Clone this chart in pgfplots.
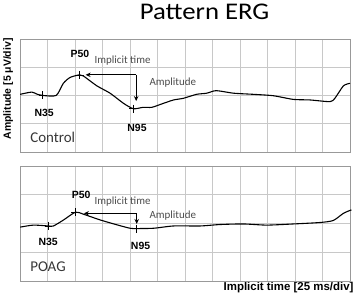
\documentclass[border=0pt]{standalone}
\usepackage{pgfplots}
\pgfplotsset{compat=1.18}
\usepackage{fontspec}
\setmainfont{Carlito}
\newfontfamily\arial{Liberation Sans}
\usetikzlibrary{arrows.meta}
\definecolor{gridc}{RGB}{200,200,200}
\definecolor{txtc}{RGB}{55,55,55}
\definecolor{annc}{RGB}{75,75,75}
\pgfplotsset{
  ergpanel/.style={
    scale only axis, width=330bp,
    xmin=0, xmax=12, ymin=0, ymax=4,
    xtick={0,...,12}, ytick={0,...,4},
    xticklabels={}, yticklabels={},
    major tick length=0pt,
    grid=major, major grid style={gridc, line width=0.6pt},
    axis line style={gray!80, line width=0.6pt},
    clip=false,
  },
  trace/.style={black, line width=1.1pt, smooth, tension=0.4, no marks},
  cross/.style={only marks, mark=+, mark size=4pt, black, mark options={line width=0.6pt}},
  arr/.style={black, line width=1pt, -{Stealth[length=5pt,width=4.5pt]}, no marks},
}
\tikzset{
  pk/.style={font=\arial\bfseries\fontsize{10.5}{12}\selectfont, anchor=base},
  ann/.style={font=\fontsize{11}{12}\selectfont, text=annc, anchor=base west},
  grp/.style={font=\fontsize{15}{17}\selectfont, text=txtc, anchor=base west},
}
\begin{document}
\begin{tikzpicture}[x=1bp,y=1bp]
\path (0,0) rectangle (358,298);
\node[font=\fontsize{24}{26}\selectfont, text=black, anchor=base, xscale=1.12] at (204.5,278) {Pattern ERG};
\node[font=\arial\bfseries\fontsize{10.5}{12}\selectfont, rotate=90] at (8,209) {Amplitude [5 μV/div]};
\node[font=\arial\bfseries\fontsize{11.5}{13}\selectfont, anchor=base east] at (357,7) {Implicit time [25 ms/div]};
% Control panel
\begin{axis}[ergpanel, height=113bp, at={(20bp,146bp)}, anchor=south west]
\addplot[trace] coordinates {
(0,2.04) (0.42,2.12) (0.6,2.05) (0.82,2.0) (1.31,2.0) (1.57,2.43) (1.82,2.64)
(2.16,2.73) (2.3,2.69) (2.79,2.34) (3.27,2.08) (3.76,1.72) (4.12,1.53)
(4.48,1.58) (4.79,1.58) (5.21,1.72) (5.58,1.84) (5.94,1.9) (6.42,2.04)
(6.79,2.08) (7.13,2.17) (7.76,2.08) (8.48,2.04) (9.21,1.99) (9.94,1.86)
(10.55,1.84) (11.27,1.78) (11.45,1.9) (11.76,2.34) (12,2.43)};
\addplot[cross] coordinates {(0.82,2.0) (2.16,2.73) (4.12,1.53)};
\addplot[arr] coordinates {(4.22,2.73) (2.38,2.73)};
\addplot[arr] coordinates {(4.22,2.73) (4.22,1.8)};
\node[pk, anchor=base west] at (axis cs:1.71,3.36) {P50};
\node[ann] at (axis cs:2.58,3.12) {Implicit time};
\node[ann] at (axis cs:4.58,2.37) {Amplitude};
\node[pk] at (axis cs:0.87,1.24) {N35};
\node[pk] at (axis cs:4.25,0.74) {N95};
\node[grp] at (axis cs:0.24,0.35) {Control};
\end{axis}
% POAG panel
\begin{axis}[ergpanel, height=115bp, at={(20bp,17bp)}, anchor=south west]
\addplot[trace] coordinates {
(0,1.87) (0.48,1.94) (1.03,1.91) (1.21,1.91) (1.58,2.12) (2.01,2.39) (2.3,2.32)
(2.91,2.12) (3.52,1.95) (4.0,1.83) (4.24,1.82) (4.85,1.83) (5.58,1.91)
(6.55,1.91) (7.27,1.96) (8.12,1.98) (8.97,1.94) (9.94,1.98) (10.9,2.03)
(11.39,2.1) (11.76,2.35) (12.05,2.47)};
\addplot[cross] coordinates {(1.03,1.91) (2.01,2.39) (4.24,1.82)};
\addplot[arr] coordinates {(4.24,2.35) (2.32,2.35)};
\addplot[arr] coordinates {(4.24,2.35) (4.24,1.98)};
\node[pk, anchor=base west] at (axis cs:1.75,2.88) {P50};
\node[ann] at (axis cs:2.58,2.64) {Implicit time};
\node[ann] at (axis cs:4.58,2.16) {Amplitude};
\node[pk] at (axis cs:1.02,1.23) {N35};
\node[pk] at (axis cs:4.38,1.10) {N95};
\node[grp] at (axis cs:0.24,0.31) {POAG};
\end{axis}
\end{tikzpicture}
\end{document}
